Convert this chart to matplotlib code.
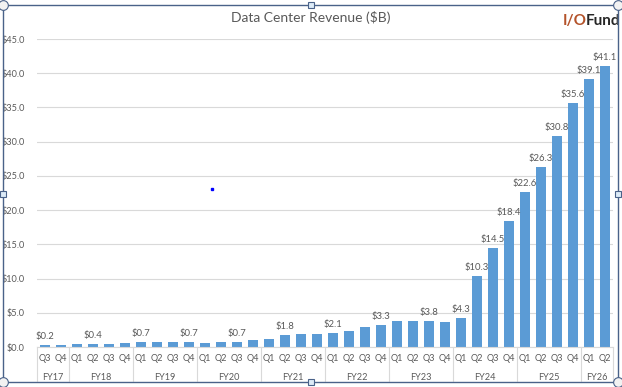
import matplotlib
matplotlib.use("Agg")
import matplotlib.pyplot as plt
from matplotlib.lines import Line2D
from matplotlib.patches import Rectangle

plt.rcParams['font.family'] = ['Lato', 'DejaVu Sans']

# ---- data ----
fiscal_years = ["FY17", "FY18", "FY19", "FY20", "FY21", "FY22", "FY23", "FY24", "FY25", "FY26"]
quarters_per_year = [
    ["Q3", "Q4"],
    ["Q1", "Q2", "Q3", "Q4"],
    ["Q1", "Q2", "Q3", "Q4"],
    ["Q1", "Q2", "Q3", "Q4"],
    ["Q1", "Q2", "Q3", "Q4"],
    ["Q1", "Q2", "Q3", "Q4"],
    ["Q1", "Q2", "Q3", "Q4"],
    ["Q1", "Q2", "Q3", "Q4"],
    ["Q1", "Q2", "Q3", "Q4"],
    ["Q1", "Q2"],
]
revenue = [
    0.24, 0.30,
    0.41, 0.42, 0.50, 0.61,
    0.70, 0.76, 0.79, 0.68,
    0.63, 0.66, 0.73, 0.97,
    1.14, 1.76, 1.90, 1.90,
    2.07, 2.37, 2.94, 3.26,
    3.75, 3.81, 3.83, 3.62,
    4.28, 10.32, 14.51, 18.40,
    22.6, 26.3, 30.8, 35.6,
    39.1, 41.1,
]
labeled_idx = [0, 3, 6, 9, 12, 15, 18, 21, 24, 26, 27, 28, 29, 30, 31, 32, 33, 34, 35]
yticks = [0, 5, 10, 15, 20, 25, 30, 35, 40, 45]
title = "Data Center Revenue ($B)"

# ---- figure ----
W, H = 622, 387
fig = plt.figure(figsize=(W / 100, H / 100), dpi=100)
fig.patch.set_facecolor("white")

def fx(px):
    return px / W

def fy(py):
    return 1 - py / H

ax_l, ax_r, ax_t, ax_b = 37, 613, 39, 347
ax = fig.add_axes([fx(ax_l), fy(ax_b), (ax_r - ax_l) / W, (ax_b - ax_t) / H])

txt = "#595959"
grid = "#D9D9D9"
bar_c = "#5B9BD5"

quarter_labels = [q for qs in quarters_per_year for q in qs]
x = list(range(len(revenue)))
ax.bar(x, revenue, width=0.6, color=bar_c, zorder=3)

ax.set_xlim(-0.5, len(revenue) - 0.5)
ax.set_ylim(0, 45)
ax.set_yticks(yticks)
ax.set_yticklabels([f"${v:.1f}" for v in yticks], color=txt, fontsize=6.6)
ax.tick_params(axis="y", length=0, pad=9)
ax.grid(axis="y", color=grid, lw=0.8, zorder=0)
for s in ["top", "right", "left"]:
    ax.spines[s].set_visible(False)
ax.spines["bottom"].set_color(grid)
ax.spines["bottom"].set_linewidth(0.8)
ax.spines["bottom"].set_zorder(4)

ax.set_xticks(x)
ax.set_xticklabels(quarter_labels, color=txt, fontsize=6.6)
ax.tick_params(axis="x", length=0, pad=5)

# fiscal-year group labels and separators
axh = ax_b - ax_t
sep_bottom = -(382 - ax_b) / axh
fy_y = -(378 - ax_b) / axh
trans = ax.get_xaxis_transform()
start = 0
bounds = [-0.5]
for fyl, qs in zip(fiscal_years, quarters_per_year):
    end = start + len(qs)
    ax.text((start + end - 1) / 2, fy_y, fyl, transform=trans, ha="center", va="center",
            fontsize=6.6, color=txt, clip_on=False)
    bounds.append(end - 0.5)
    start = end
for b in bounds:
    ax.add_line(Line2D([b, b], [0, sep_bottom], transform=trans, color=grid, lw=0.8, clip_on=False))

# data labels
for i in labeled_idx:
    ax.annotate(f"${revenue[i]:.1f}", (i, revenue[i]), xytext=(0, 3), textcoords="offset points",
                ha="center", va="bottom", fontsize=6.8, color=txt, zorder=5, annotation_clip=False)

# title and logo
fig.text(fx(311), fy(17), title, ha="center", va="center", fontsize=10, color="#595959")
logo_i = fig.text(fx(563), fy(21), "I/O", ha="left", va="center", fontsize=11, fontweight="bold", color="#B4532A")
fig.canvas.draw()
bb = logo_i.get_window_extent()
fig.text((bb.x1 - 1) / W, fy(21), "Fund", ha="left", va="center", fontsize=11, fontweight="bold", color="#262626")

# stray blue dot
fig.add_artist(Line2D([fx(212)], [fy(189)], marker="s", markersize=1.6, color="#0000FF", lw=0,
                      transform=fig.transFigure))

# white margin outside the selection frame (clips content)
fl, fr, ft, fb = 3, 618, 5, 382
fig.add_artist(Rectangle((fx(fr), 0), 1 - fx(fr), 1, transform=fig.transFigure, color="white", zorder=20))
fig.add_artist(Rectangle((0, 0), 1, fy(fb), transform=fig.transFigure, color="white", zorder=20))
fig.add_artist(Rectangle((0, 0), fx(fl), 1, transform=fig.transFigure, color="white", zorder=20))

frame_c = "#4A6289"
fig.add_artist(Line2D([fx(fl), fx(fr), fx(fr), fx(fl), fx(fl)], [fy(ft), fy(ft), fy(fb), fy(fb), fy(ft)],
                      transform=fig.transFigure, color=frame_c, lw=1.0, zorder=21))
for (hx, hy) in [(fl, ft), (fr, ft), (fl, fb), (fr, fb)]:
    fig.add_artist(Line2D([fx(hx)], [fy(hy)], marker="o", markersize=7, markerfacecolor="#F2F2F2",
                          markeredgecolor=frame_c, markeredgewidth=0.8, lw=0, transform=fig.transFigure, zorder=22))
for (hx, hy) in [((fl + fr) / 2, ft), ((fl + fr) / 2, fb), (fl, (ft + fb) / 2), (fr, (ft + fb) / 2)]:
    fig.add_artist(Line2D([fx(hx)], [fy(hy)], marker="s", markersize=5, markerfacecolor="#DDEBF7",
                          markeredgecolor=frame_c, markeredgewidth=0.8, lw=0, transform=fig.transFigure, zorder=22))

fig.savefig("out.png", dpi=100, facecolor="white")
